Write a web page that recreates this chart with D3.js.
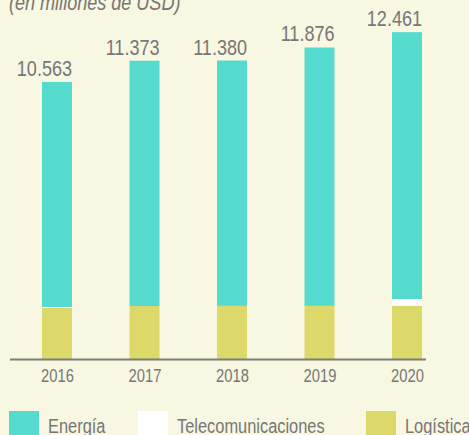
<!DOCTYPE html>
<html>
<head>
<meta charset="utf-8">
<script src="https://cdn.jsdelivr.net/npm/d3@7"></script>
<style>
  html, body { margin: 0; padding: 0; background: #f8f7e1; }
  svg { display: block; }
  text { font-family: "Liberation Sans", Arial, sans-serif; fill: #767676; }
</style>
</head>
<body>
<svg id="chart" width="469" height="435"></svg>
<script>
const years = ["2016", "2017", "2018", "2019", "2020"];
const energia = [8578, 9353, 9355, 9851, 10174];
const telecom = [40, 0, 0, 0, 255];
const logistica = [1945, 2020, 2025, 2025, 2032];
const totalLabels = ["10.563", "11.373", "11.380", "11.876", "12.461"];
const seriesNames = ["Energía", "Telecomunicaciones", "Logística"];
const seriesColors = ["#55dbcd", "#ffffff", "#ddd86a"];
const title = "(en millones de USD)";

const svg = d3.select("#chart");
const NARROW = 0.82;
function narrow(sel) {
  sel.each(function () {
    const w = this.getComputedTextLength();
    d3.select(this).attr("textLength", w * NARROW).attr("lengthAdjust", "spacingAndGlyphs");
  });
}

const x = d3.scalePoint().domain(years).range([57, 407]);
const barW = 30;
const y = d3.scaleLinear().domain([0, 13000]).range([359, 359 - 13000 * 0.02623]);

const rows = years.map((yr, i) => ({ year: yr, Logistica: logistica[i], Telecom: telecom[i], Energia: energia[i] }));
const keys = ["Logistica", "Telecom", "Energia"];
const colorByKey = { Energia: seriesColors[0], Telecom: seriesColors[1], Logistica: seriesColors[2] };
const stacked = d3.stack().keys(keys)(rows);

svg.append("g").selectAll("g").data(stacked).join("g")
  .attr("fill", d => colorByKey[d.key])
  .selectAll("rect").data(d => d).join("rect")
  .attr("x", d => x(d.data.year) - barW / 2)
  .attr("width", barW)
  .attr("y", d => y(d[1]))
  .attr("height", d => Math.max(0, y(d[0]) - y(d[1])));

// axis baseline
svg.append("line")
  .attr("x1", 10).attr("x2", 426)
  .attr("y1", y(0) + 0.5).attr("y2", y(0) + 0.5)
  .attr("stroke", "#7d7d7d").attr("stroke-width", 2);

const axis = d3.axisBottom(x).tickSize(0).tickPadding(0);
const gAx = svg.append("g").attr("transform", `translate(0, 382)`).call(axis);
gAx.select(".domain").remove();
gAx.selectAll("text")
  .attr("dy", 0).attr("y", 0)
  .style("font-family", '"Liberation Sans", Arial, sans-serif')
  .style("font-size", "18px")
  .attr("fill", "#767676")
  .call(narrow);

// total labels
const totals = years.map((yr, i) => energia[i] + telecom[i] + logistica[i]);
svg.append("g").selectAll("text").data(years).join("text")
  .attr("x", d => x(d) + barW / 2)
  .attr("y", (d, i) => y(totals[i]) - 6)
  .attr("text-anchor", "end")
  .style("font-size", "22px")
  .text((d, i) => totalLabels[i])
  .call(narrow);

// title
svg.append("text")
  .attr("x", 9).attr("y", 10)
  .style("font-size", "22px")
  .style("font-style", "italic")
  .text(title)
  .call(narrow);

// legend
const legX = [9, 138, 366];
const lg = svg.append("g").selectAll("g").data(seriesNames).join("g")
  .attr("transform", (d, i) => `translate(${legX[i]}, 411)`);
lg.append("rect").attr("width", 30).attr("height", 30).attr("fill", (d, i) => seriesColors[i]);
lg.append("text").attr("x", 39).attr("y", 22).style("font-size", "20px").text(d => d).call(narrow);
</script>
</body>
</html>
